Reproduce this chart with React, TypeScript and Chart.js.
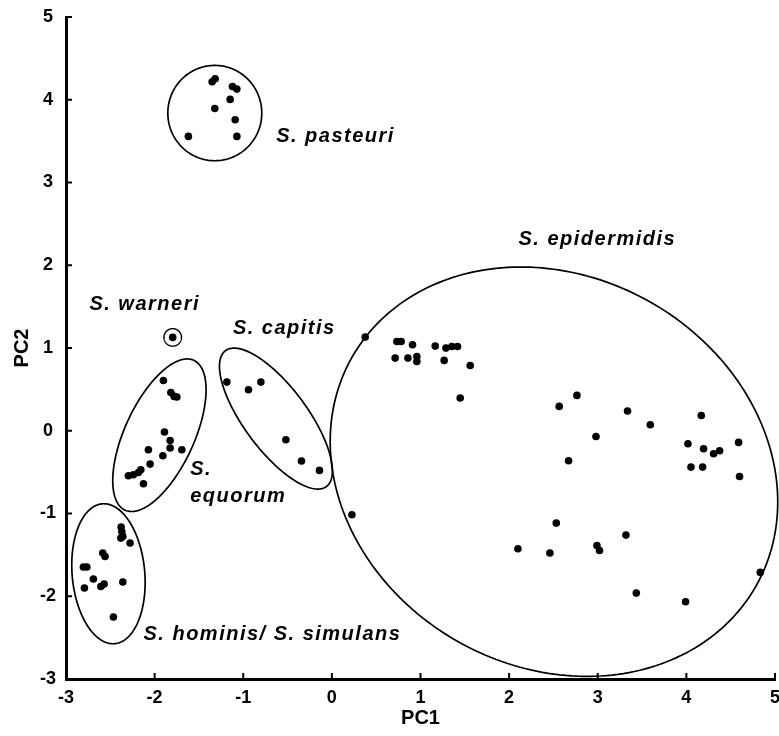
import React, { useEffect, useRef } from 'react';
import { Chart, registerables } from 'chart.js';

Chart.register(...registerables);

// ---- tick values ----
const xTickValues = [-3, -2, -1, 0, 1, 2, 3, 4, 5];
const yTickValues = [-3, -2, -1, 0, 1, 2, 3, 4, 5];

// ---- series (PC1, PC2) ----
const pasteuriX = [-1.351, -1.317, -1.122, -1.072, -1.148, -1.321, -1.091, -1.619, -1.072];
const pasteuriY = [4.217, 4.254, 4.161, 4.129, 4.004, 3.895, 3.758, 3.557, 3.557];

const warneriX = [-1.796];
const warneriY = [1.128];

const equorumX = [-1.901, -1.817, -1.78, -1.749, -1.889, -1.825, -1.825, -1.693, -2.07, -1.907, -2.051, -2.296, -2.239, -2.183, -2.156, -2.126];
const equorumY = [0.608, 0.463, 0.415, 0.407, -0.016, -0.117, -0.209, -0.23, -0.23, -0.302, -0.403, -0.544, -0.532, -0.504, -0.471, -0.64];

const capitisX = [-1.185, -0.941, -0.801, -0.519, -0.343, -0.14];
const capitisY = [0.588, 0.495, 0.588, -0.109, -0.366, -0.479];

const hominisX = [-2.378, -2.37, -2.359, -2.381, -2.277, -2.585, -2.559, -2.804, -2.765, -2.691, -2.792, -2.607, -2.57, -2.359, -2.465];
const hominisY = [-1.164, -1.217, -1.277, -1.297, -1.357, -1.478, -1.519, -1.647, -1.647, -1.792, -1.901, -1.882, -1.853, -1.828, -2.251];

const epidermidisX = [0.376, 0.733, 0.782, 0.91, 1.166, 1.287, 1.354, 1.418, 0.714, 0.858, 0.959, 0.959, 1.267, 1.561, 1.448,
  2.765, 2.565, 3.336, 3.593, 2.98, 2.671, 4.168, 4.018, 4.194, 4.307, 4.375, 4.589, 4.052, 4.183, 4.6,
  0.226, 2.532, 2.099, 2.46, 2.991, 3.02, 3.318, 3.435, 3.991, 4.834];
const epidermidisY = [1.132, 1.079, 1.079, 1.039, 1.023, 0.999, 1.019, 1.019, 0.878, 0.878, 0.898, 0.837, 0.85, 0.789, 0.395,
  0.427, 0.294, 0.238, 0.073, -0.069, -0.363, 0.185, -0.157, -0.218, -0.278, -0.242, -0.141, -0.439, -0.439, -0.552,
  -1.015, -1.116, -1.426, -1.478, -1.386, -1.447, -1.261, -1.962, -2.066, -1.712];

// ---- group outlines: centre + two conjugate semi-axes, in data units ----
const ellipseCX = [-1.321, -1.796, -1.946, -0.631, -2.521, 2.506];
const ellipseCY = [3.839, 1.128, -0.054, 0.147, -1.728, -0.495];
const ellipseUX = [0.53, 0.099, 0.388, 0.569, 0.0704, 2.28];
const ellipseUY = [0, 0, 0.905, -0.821, -0.845, -1.381];
const ellipseVX = [0, 0, 0.356, -0.287, -0.408, -1.085];
const ellipseVY = [0.576, 0.106, -0.175, -0.227, -0.039, -2.052];

// ---- group labels (left edge / vertical middle, in data units) ----
const labelTexts = ['S. pasteuri', 'S. epidermidis', 'S. warneri', 'S. capitis', 'S.', 'equorum', 'S. hominis/ S. simulans'];
const labelX = [-0.629, 2.106, -2.736, -1.117, -1.599, -1.599, -2.126];
const labelY = [3.556, 2.317, 1.523, 1.241, -0.471, -0.794, -2.465];

const toPoints = (xs: number[], ys: number[]) => xs.map((x, i) => ({ x, y: ys[i] }));

const TICK_FONT = '"Liberation Sans Narrow", "Liberation Sans", Arial, sans-serif';
const TITLE_FONT = '"Liberation Sans", Arial, sans-serif';

const overlayPlugin = {
  id: 'overlay',
  beforeDatasetsDraw(chart: any) {
    const { ctx, scales } = chart;
    const xs = scales.x;
    const ys = scales.y;
    ctx.save();
    ctx.strokeStyle = '#000';
    ellipseCX.forEach((cx, k) => {
      ctx.lineWidth = k === 1 ? 1.4 : 1.7;
      ctx.beginPath();
      const n = 240;
      for (let i = 0; i <= n; i++) {
        const t = (i / n) * Math.PI * 2;
        const dx = cx + ellipseUX[k] * Math.cos(t) + ellipseVX[k] * Math.sin(t);
        const dy = ellipseCY[k] + ellipseUY[k] * Math.cos(t) + ellipseVY[k] * Math.sin(t);
        const px = xs.getPixelForValue(dx);
        const py = ys.getPixelForValue(dy);
        if (i === 0) ctx.moveTo(px, py);
        else ctx.lineTo(px, py);
      }
      ctx.closePath();
      ctx.stroke();
    });
    ctx.restore();
  },
  afterDraw(chart: any) {
    const { ctx, scales } = chart;
    const xs = scales.x;
    const ys = scales.y;
    ctx.save();
    // inward tick marks
    ctx.strokeStyle = '#000';
    ctx.lineWidth = 2;
    xTickValues.forEach((v) => {
      const px = xs.getPixelForValue(v);
      ctx.beginPath();
      ctx.moveTo(px, ys.bottom);
      ctx.lineTo(px, ys.bottom - 6);
      ctx.stroke();
    });
    yTickValues.forEach((v) => {
      const py = ys.getPixelForValue(v);
      ctx.beginPath();
      ctx.moveTo(xs.left, py);
      ctx.lineTo(xs.left + 6, py);
      ctx.stroke();
    });
    // group labels
    ctx.fillStyle = '#000';
    ctx.font = 'italic bold 20px "Liberation Sans", Arial, sans-serif';
    ctx.textAlign = 'left';
    ctx.textBaseline = 'middle';
    (ctx as any).letterSpacing = '1.5px';
    labelTexts.forEach((txt, i) => {
      ctx.fillText(txt, xs.getPixelForValue(labelX[i]), ys.getPixelForValue(labelY[i]));
    });
    ctx.restore();
  },
};

export default function App() {
  const canvasRef = useRef<HTMLCanvasElement | null>(null);

  useEffect(() => {
    if (!canvasRef.current) return;
    const dotStyle = {
      pointRadius: 3.8,
      pointHoverRadius: 3.8,
      pointBackgroundColor: '#000',
      pointBorderWidth: 0,
      borderColor: '#000',
      backgroundColor: '#000',
      showLine: false,
    };
    const chart = new Chart(canvasRef.current, {
      type: 'scatter',
      data: {
        datasets: [
          { label: 'S. pasteuri', data: toPoints(pasteuriX, pasteuriY), ...dotStyle },
          { label: 'S. warneri', data: toPoints(warneriX, warneriY), ...dotStyle },
          { label: 'S. equorum', data: toPoints(equorumX, equorumY), ...dotStyle },
          { label: 'S. capitis', data: toPoints(capitisX, capitisY), ...dotStyle },
          { label: 'S. hominis/ S. simulans', data: toPoints(hominisX, hominisY), ...dotStyle },
          { label: 'S. epidermidis', data: toPoints(epidermidisX, epidermidisY), ...dotStyle },
        ],
      },
      options: {
        responsive: false,
        animation: false,
        devicePixelRatio: 1,
        clip: false as any,
        layout: { padding: { top: 17, right: 4, left: 0, bottom: 0 } },
        plugins: {
          legend: { display: false },
          tooltip: { enabled: false },
        },
        scales: {
          x: {
            type: 'linear',
            min: -3,
            max: 5,
            afterBuildTicks: (s: any) => {
              s.ticks = xTickValues.map((v) => ({ value: v }));
            },
            ticks: {
              color: '#000',
              padding: 8,
              font: { family: TICK_FONT, size: 18, weight: 'bold' },
            },
            grid: { display: false, drawTicks: false },
            border: { display: true, color: '#000', width: 3 },
            title: {
              display: true,
              text: 'PC1',
              color: '#000',
              font: { family: TITLE_FONT, size: 20, weight: 'bold' },
              padding: { top: 0, bottom: 6 },
            },
            afterFit: (s: any) => {
              s.height = 57;
              s.paddingLeft = 0;
              s.paddingRight = 0;
            },
          },
          y: {
            type: 'linear',
            min: -3,
            max: 5,
            afterBuildTicks: (s: any) => {
              s.ticks = yTickValues.map((v) => ({ value: v }));
            },
            ticks: {
              color: '#000',
              padding: 10,
              crossAlign: 'center',
              font: { family: TICK_FONT, size: 18, weight: 'bold' },
            },
            grid: { display: false, drawTicks: false },
            border: { display: true, color: '#000', width: 3 },
            title: {
              display: true,
              text: 'PC2',
              color: '#000',
              font: { family: TITLE_FONT, size: 20, weight: 'bold' },
              padding: { top: 10, bottom: 0 },
            },
            afterFit: (s: any) => {
              s.width = 66;
              s.paddingTop = 0;
              s.paddingBottom = 0;
            },
          },
        },
      } as any,
      plugins: [overlayPlugin],
    });
    return () => chart.destroy();
  }, []);

  return (
    <div style={{ position: 'fixed', left: 0, top: 0, width: 779, height: 736, background: '#fff' }}>
      <canvas ref={canvasRef} width={779} height={736} style={{ width: 779, height: 736, display: 'block' }} />
    </div>
  );
}
